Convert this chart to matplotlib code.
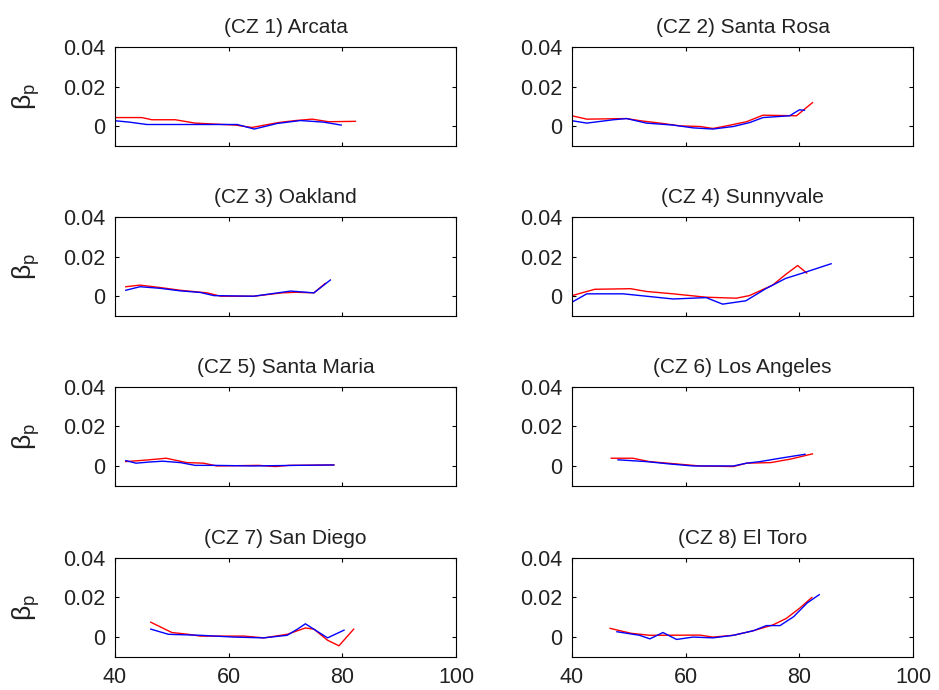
import matplotlib
matplotlib.use('Agg')
from matplotlib import pyplot as plt

plt.rcParams['font.family'] = ['Liberation Sans', 'DejaVu Sans']
plt.rcParams['mathtext.fontset'] = 'custom'
plt.rcParams['mathtext.rm'] = 'Liberation Sans'
plt.rcParams['mathtext.it'] = 'Liberation Sans'

# data: x = temperature, y = beta_p
titles = ['(CZ 1) Arcata', '(CZ 2) Santa Rosa', '(CZ 3) Oakland', '(CZ 4) Sunnyvale',
          '(CZ 5) Santa Maria', '(CZ 6) Los Angeles', '(CZ 7) San Diego', '(CZ 8) El Toro']

cz1_red_x = [40, 44.7, 46.5, 50.6, 54.1, 61.2, 64.1, 68.8, 71.8, 74.7, 77.6, 82.3]
cz1_red_y = [0.0045, 0.0045, 0.0034, 0.0034, 0.0017, 0.0007, -0.0005, 0.002, 0.003, 0.0037, 0.0024, 0.0026]
cz1_blue_x = [40, 42.5, 45.6, 52, 58, 61.5, 64.5, 68.5, 72.6, 76.7, 79.8]
cz1_blue_y = [0.0029, 0.0022, 0.001, 0.001, 0.001, 0.001, -0.0013, 0.0015, 0.003, 0.0022, 0.0007]

cz2_red_x = [40, 42.6, 49.6, 52, 55.5, 59, 62.5, 64.8, 67.2, 70.7, 73.6, 79.5, 80.6, 82.3]
cz2_red_y = [0.0054, 0.0037, 0.004, 0.0029, 0.0017, 0.0003, 0.0, -0.001, 0.0003, 0.0024, 0.0057, 0.0054, 0.008, 0.012]
cz2_blue_x = [40, 42.6, 47.3, 49.6, 53.1, 57.8, 61.3, 64.8, 68.4, 71.3, 73.6, 78.3, 80.0, 80.9]
cz2_blue_y = [0.0029, 0.0017, 0.0034, 0.004, 0.0017, 0.0007, -0.0007, -0.0013, 0.0, 0.002, 0.0045, 0.0054, 0.0084, 0.0082]

cz3_red_x = [41.9, 44.4, 47.9, 51.5, 56.2, 58.6, 64.4, 69.4, 71.8, 75.0, 77.0]
cz3_red_y = [0.0048, 0.0056, 0.0044, 0.003, 0.0017, 0.0, 0.0, 0.0017, 0.002, 0.0017, 0.0065]
cz3_blue_x = [41.9, 44.4, 47.9, 51.5, 55.0, 57.4, 64.4, 67.9, 70.9, 75.0, 77.9]
cz3_blue_y = [0.003, 0.0048, 0.004, 0.0027, 0.0019, 0.0003, 0.0, 0.0014, 0.0026, 0.0017, 0.0082]

cz4_red_x = [40, 44.0, 50.3, 53.1, 57.8, 63.6, 68.9, 71.2, 75.3, 77.6, 79.7, 81.3]
cz4_red_y = [0.0003, 0.0035, 0.0038, 0.0024, 0.0012, -0.0005, -0.001, 0.0003, 0.0056, 0.011, 0.0155, 0.0117]
cz4_blue_x = [40, 42.6, 49.0, 53.1, 57.8, 63.6, 66.5, 70.6, 74.1, 77.6, 80.6, 85.6]
cz4_blue_y = [-0.003, 0.0012, 0.0012, 0.0, -0.0014, -0.0007, -0.004, -0.0023, 0.0038, 0.009, 0.0117, 0.0164]

cz5_red_x = [41.9, 45.6, 49.0, 52.6, 55.6, 57.9, 65.3, 68.2, 70.6, 78.5]
cz5_red_y = [0.0022, 0.003, 0.0039, 0.0017, 0.0014, 0.0, 0.0003, -0.0003, 0.0003, 0.0005]
cz5_blue_x = [41.9, 43.7, 46.1, 48.4, 51.5, 54.1, 57.4, 64.4, 71.8, 78.5]
cz5_blue_y = [0.0027, 0.0014, 0.002, 0.0024, 0.0017, 0.0003, 0.0003, 0.0, 0.0003, 0.0005]

cz6_red_x = [46.9, 50.7, 53.6, 62.5, 68.4, 70.7, 75.0, 78.5, 82.3]
cz6_red_y = [0.0039, 0.0039, 0.0022, 0.0, -0.0003, 0.0014, 0.0017, 0.0035, 0.0061]
cz6_blue_x = [48.1, 53.1, 57.2, 61.3, 68.4, 70.7, 73.1, 76.6, 81.0]
cz6_blue_y = [0.0031, 0.0022, 0.001, 0.0, 0.0, 0.0014, 0.0022, 0.0039, 0.0059]

cz7_red_x = [46.3, 50.0, 52.9, 55.0, 62.7, 66.2, 70.3, 73.5, 75.0, 77.4, 79.4, 82.0]
cz7_red_y = [0.0075, 0.0023, 0.0014, 0.0005, 0.0005, -0.0004, 0.0014, 0.0046, 0.004, -0.0016, -0.0044, 0.004]
cz7_blue_x = [46.3, 49.4, 55.0, 60.9, 66.2, 70.3, 72.1, 73.5, 77.4, 80.3]
cz7_blue_y = [0.004, 0.0014, 0.0009, 0.0, -0.0004, 0.0009, 0.004, 0.0067, -0.0004, 0.0035]

cz8_red_x = [46.7, 50.4, 53.7, 62.5, 64.8, 68.4, 71.9, 75.4, 77.7, 80.1, 82.2]
cz8_red_y = [0.0044, 0.0019, 0.0009, 0.001, 0.0, 0.0009, 0.0032, 0.0062, 0.0094, 0.0147, 0.02]
cz8_blue_x = [47.9, 51.9, 53.7, 56.0, 58.4, 61.3, 64.8, 68.4, 71.9, 74.2, 76.6, 79.0, 81.4, 83.5]
cz8_blue_y = [0.0027, 0.0009, -0.0009, 0.0023, -0.0012, 0.0, -0.0004, 0.0009, 0.0032, 0.0058, 0.0058, 0.0103, 0.0173, 0.0214]

red_x = [cz1_red_x, cz2_red_x, cz3_red_x, cz4_red_x, cz5_red_x, cz6_red_x, cz7_red_x, cz8_red_x]
red_y = [cz1_red_y, cz2_red_y, cz3_red_y, cz4_red_y, cz5_red_y, cz6_red_y, cz7_red_y, cz8_red_y]
blue_x = [cz1_blue_x, cz2_blue_x, cz3_blue_x, cz4_blue_x, cz5_blue_x, cz6_blue_x, cz7_blue_x, cz8_blue_x]
blue_y = [cz1_blue_y, cz2_blue_y, cz3_blue_y, cz4_blue_y, cz5_blue_y, cz6_blue_y, cz7_blue_y, cz8_blue_y]

xticks = [40, 60, 80, 100]
yticks = [0, 0.02, 0.04]
yticklabels = ['0', '0.02', '0.04']

fig = plt.figure(figsize=(9.39, 6.9), dpi=100)

lefts = [115 / 939, 572 / 939]
bottoms = [0.788, 0.542, 0.296, 0.048]
w, h = 341 / 939, 0.1435

for i in range(8):
    row, col = i // 2, i % 2
    ax = fig.add_axes([lefts[col], bottoms[row], w, h])
    ax.plot(red_x[i], red_y[i], c='red', lw=1)
    ax.plot(blue_x[i], blue_y[i], c='blue', lw=1)
    ax.set_xlim(40, 100)
    ax.set_ylim(-0.01, 0.04)
    ax.set_xticks(xticks)
    ax.set_yticks(yticks)
    ax.set_yticklabels(yticklabels)
    ax.tick_params(direction='in', top=True, right=True, length=3, labelsize=15.5,
                   pad=7, labelcolor='#222222')
    if row < 3:
        ax.set_xticklabels([])
    ax.set_title(titles[i], fontsize=15, pad=10, color='#222222')
    if col == 0:
        ax.set_ylabel(r'$\beta_\mathrm{p}$', fontsize=19, color='#222222')
        ax.yaxis.set_label_coords(-0.215, 0.5)

plt.savefig('out.png', dpi=100)
